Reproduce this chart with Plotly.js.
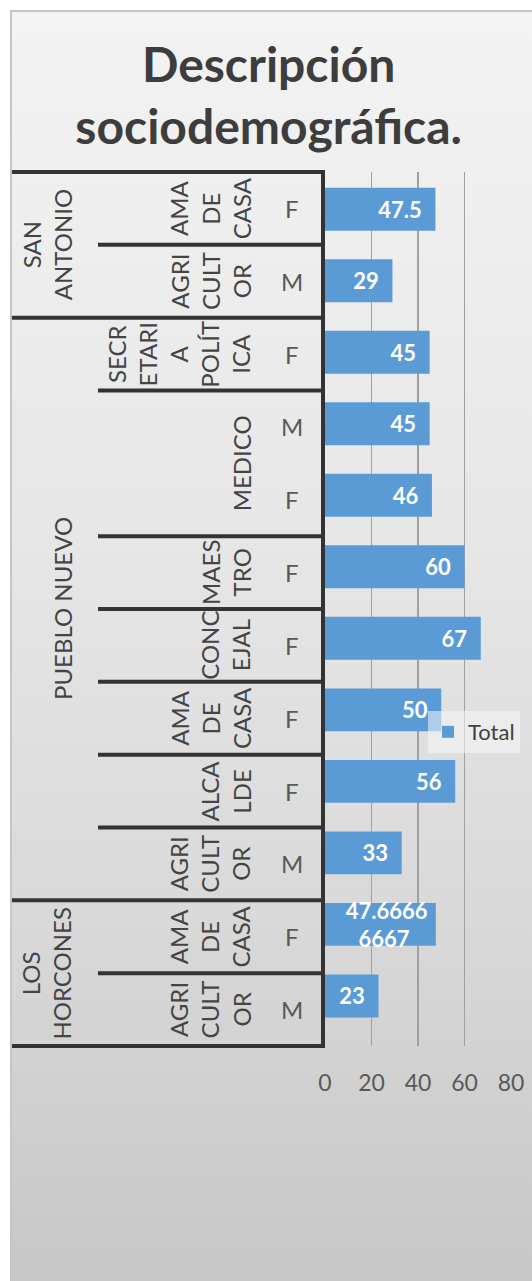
<!DOCTYPE html>
<html><head><meta charset="utf-8">
<script src="https://cdn.plot.ly/plotly-3.0.1.min.js"></script>
<style>
html,body{margin:0;padding:0;background:#fff;width:532px;height:1281px;overflow:hidden;}
#bg{position:absolute;left:10px;top:10px;width:540px;height:1290px;border:2px solid #c6c6c6;
 background:linear-gradient(to bottom,#f3f3f3 0%,#e7e7e7 40%,#d9d9d9 70%,#c6c6c6 100%);}
#chart{position:absolute;left:0;top:0;width:532px;height:1281px;}
</style></head><body>
<div id="bg"></div><div id="chart"></div>
<script>
// ---- data (top to bottom, as in the chart) ----
const locations = ['SAN<br>ANTONIO','SAN<br>ANTONIO','PUEBLO NUEVO','PUEBLO NUEVO','PUEBLO NUEVO','PUEBLO NUEVO',
  'PUEBLO NUEVO','PUEBLO NUEVO','PUEBLO NUEVO','PUEBLO NUEVO','LOS<br>HORCONES','LOS<br>HORCONES'];
const occupations = ['AMA<br>DE<br>CASA','AGRI<br>CULT<br>OR','SECR<br>ETARI<br>A<br>POLÍT<br>ICA','MEDICO','MEDICO',
  'MAES<br>TRO','CONC<br>EJAL','AMA<br>DE<br>CASA','ALCA<br>LDE','AGRI<br>CULT<br>OR','AMA<br>DE<br>CASA','AGRI<br>CULT<br>OR'];
const genders = ['F','M','F','M','F','F','F','F','F','M','F','M'];
const totals = [47.5, 29, 45, 45, 46, 60, 67, 50, 56, 33, 47.66666667, 23];
const xTicks = [0, 20, 40, 60, 80];
const seriesName = 'Total';
const chartTitle = 'Descripción<br>sociodemográfica.';

// ---- layout helpers ----
const N = totals.length;
const strip = s => s.replace(/<br>/g, ' ');
const keys = totals.map((_, i) => strip(locations[i]) + ' / ' + strip(occupations[i]) + ' / ' + genders[i]);
const PX0 = 325, PXW = 186;
const px = p => (p - PX0) / PXW;
const rowY = k => 1 - k / N;
const FONT = 'Lato, "Open Sans", sans-serif';
const LABEL_SIZE = 24;
const LINE = 1.3 * LABEL_SIZE;

const labels = totals.map(v => {
  let s = String(v);
  if (s.length > 7) s = s.slice(0, 7) + '\u00a0<br>' + s.slice(7);
  return s + '\u00a0\u00a0';
});

function runs(keyFn) {
  const out = []; let start = 0;
  for (let i = 1; i <= N; i++) {
    if (i === N || keyFn(i) !== keyFn(start)) { out.push([start, i]); start = i; }
  }
  return out;
}
const locRuns = runs(i => locations[i]);
const occRuns = runs(i => locations[i] + '|' + occupations[i]);

const shapes = [];
const hline = (x0, k) => shapes.push({type:'line', xref:'paper', yref:'paper', x0:x0, x1:0, y0:rowY(k), y1:rowY(k),
  line:{color:'#333333', width:4}});
hline(px(12), 0); hline(px(12), N);
const locBounds = new Set(locRuns.map(r => r[0]));
occRuns.forEach(r => { if (r[0] > 0) hline(locBounds.has(r[0]) ? px(12) : px(98), r[0]); });

const annotations = [];
locRuns.forEach(([a, b]) => {
  const n = locations[a].split('<br>').length;
  annotations.push({xref:'paper', yref:'paper', x:px(62 - (n - 1) * LINE / 2), y:1 - (a + b) / 2 / N,
    text:locations[a], textangle:-90, showarrow:false, xanchor:'center', yanchor:'middle',
    font:{family:FONT, size:LABEL_SIZE, color:'#444444'}});
});
occRuns.forEach(([a, b]) => {
  const n = occupations[a].split('<br>').length;
  annotations.push({xref:'paper', yref:'paper', x:px(241 - (n - 1) * LINE / 2), y:1 - (a + b) / 2 / N,
    text:occupations[a], textangle:-90, showarrow:false, xanchor:'center', yanchor:'middle',
    font:{family:FONT, size:LABEL_SIZE, color:'#444444'}});
});
genders.forEach((g, i) => {
  annotations.push({xref:'paper', yref:'paper', x:px(292), y:1 - (i + 0.5) / N, text:g, showarrow:false,
    xanchor:'center', yanchor:'middle', font:{family:FONT, size:24, color:'#595959'}});
});

const trace = {
  type:'bar', orientation:'h', x:totals, y:keys, name:seriesName, showlegend:true,
  marker:{color:'#5b9bd5'}, text:labels, textposition:'inside', insidetextanchor:'end', textangle:0,
  constraintext:'none', cliponaxis:false,
  textfont:{family:FONT, size:22, color:'#ffffff', weight:700}, hoverinfo:'x'
};

const layout = {
  width:532, height:1281, margin:{l:325, r:21, t:172, b:235, pad:0},
  paper_bgcolor:'rgba(0,0,0,0)', plot_bgcolor:'rgba(0,0,0,0)',
  font:{family:FONT},
  title:{text:chartTitle, xref:'container', x:0.505, yref:'container', y:1 - 82 / 1281, yanchor:'top',
    font:{family:FONT, size:48, color:'#3d3d3d', weight:700}},
  bargap:0.4,
  xaxis:{range:[0, 80], tickvals:xTicks, ticktext:xTicks.map(String), showgrid:true, gridcolor:'#a0a0a0', gridwidth:1.5,
    zeroline:false, showline:false, ticks:'', ticklabelstandoff:21, tickfont:{family:FONT, size:23, color:'#595959'}, fixedrange:true},
  yaxis:{type:'category', categoryorder:'array', categoryarray:keys, range:[11.70, -0.52], showticklabels:false,
    showgrid:false, zeroline:false, showline:true, linecolor:'#333333', linewidth:4, ticks:'', fixedrange:true},
  legend:{x:px(428), y:1 - (711 - 172) / 874, xanchor:'left', yanchor:'top', bgcolor:'rgba(246,246,246,0.55)',
    borderwidth:0, font:{family:FONT, size:22, color:'#404040'}, itemwidth:30},
  shapes:shapes, annotations:annotations
};

Plotly.newPlot('chart', [trace], layout, {displayModeBar:false, staticPlot:true});
</script>
</body></html>
